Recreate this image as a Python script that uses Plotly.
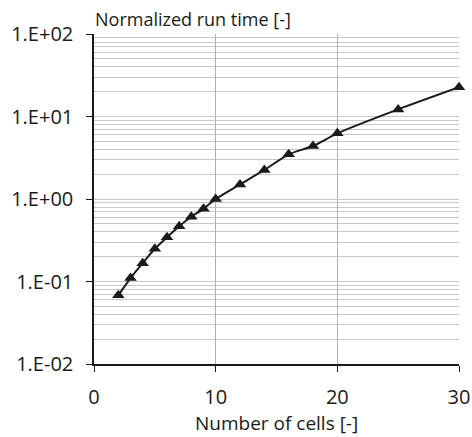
import plotly.graph_objects as go

cells = [2, 3, 4, 5, 6, 7, 8, 9, 10, 12, 14, 16, 18, 20, 25, 30]
run_time = [0.068, 0.11, 0.167, 0.249, 0.344, 0.468, 0.61, 0.76, 1.0, 1.5,
            2.25, 3.48, 4.39, 6.25, 12.2, 22.6]

y_tickvals = [0.01, 0.1, 1, 10, 100]
y_ticktext = ["1.E-02", "1.E-01", "1.E+00", "1.E+01", "1.E+02"]
x_tickvals = [0, 10, 20, 30]

font_family = "Open Sans"
ink = "#1a1a1a"

fig = go.Figure()
fig.add_trace(go.Scatter(
    x=cells, y=run_time, mode="lines+markers",
    line=dict(color=ink, width=2, shape="spline", smoothing=0.6),
    marker=dict(symbol="triangle-up", size=11, color=ink),
    showlegend=False, cliponaxis=False,
))

fig.update_layout(
    width=472, height=437,
    margin=dict(l=94, r=13, t=34, b=73),
    paper_bgcolor="white", plot_bgcolor="white",
    font=dict(family=font_family, size=20, color=ink),
    annotations=[
        dict(text="Normalized run time [-]", xref="paper", yref="paper",
             x=0, y=1, xanchor="left", yanchor="bottom", showarrow=False,
             font=dict(family=font_family, size=18, color=ink), yshift=1, xshift=-1),
        dict(text="Number of cells [-]", xref="paper", yref="paper",
             x=0.5, y=0, xanchor="center", yanchor="top", showarrow=False,
             font=dict(family=font_family, size=19, color=ink), yshift=-44),
    ],
)
fig.update_xaxes(
    range=[0, 30], tickvals=x_tickvals, showgrid=True, gridcolor="#b0b0b0",
    gridwidth=1, zeroline=False, showline=True, linecolor=ink, linewidth=1.5,
    ticks="outside", ticklen=6, tickcolor=ink, ticklabelstandoff=8,
    tickfont=dict(size=20), automargin=False,
)
fig.update_yaxes(
    type="log", range=[-2, 2], tickvals=y_tickvals, ticktext=y_ticktext,
    showgrid=True, gridcolor="#c8c8c8", gridwidth=1,
    zeroline=False, showline=True, linecolor=ink, linewidth=1.5,
    ticks="outside", ticklen=6, tickcolor=ink, ticklabelstandoff=9,
    tickfont=dict(size=20), automargin=False,
    minor=dict(dtick="D1", showgrid=True, gridcolor="#c8c8c8", ticks=""),
)

fig.write_html("out.html")
